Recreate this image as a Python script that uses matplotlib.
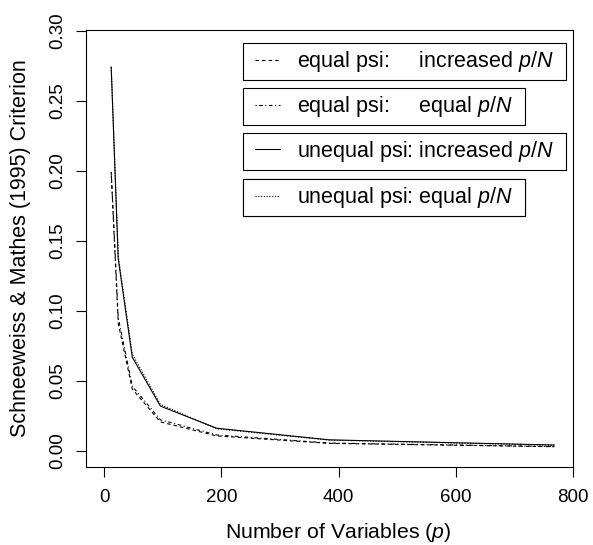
import matplotlib
matplotlib.use("Agg")
import matplotlib.pyplot as plt
from matplotlib.legend_handler import HandlerLine2D

plt.rcParams["font.family"] = ["Liberation Sans", "DejaVu Sans"]
plt.rcParams["mathtext.fontset"] = "custom"
plt.rcParams["mathtext.rm"] = "Liberation Sans"
plt.rcParams["mathtext.it"] = "Liberation Sans:italic"

# number of variables p
n_vars = [12, 24, 48, 96, 192, 384, 768]

# Schneeweiss & Mathes criterion for the four settings
eq_psi_incr = [0.199, 0.091, 0.044, 0.0205, 0.0105, 0.0052, 0.0028]
eq_psi_eq = [0.199, 0.095, 0.046, 0.0220, 0.0112, 0.0054, 0.0029]
uneq_psi_incr = [0.274, 0.137, 0.0667, 0.0318, 0.0160, 0.0077, 0.0040]
uneq_psi_eq = [0.274, 0.139, 0.0690, 0.0330, 0.0156, 0.0075, 0.0039]

labels = [
    "equal psi:     increased $p/N$",
    "equal psi:     equal $p/N$",
    "unequal psi: increased $p/N$",
    "unequal psi: equal $p/N$",
]

W, H = 593, 545
fig = plt.figure(figsize=(W / 100, H / 100), dpi=100)
ax = fig.add_axes([86 / W, 1 - 467 / H, (573 - 86) / W, (467 - 30) / H])

lw = 0.8
styles = [
    dict(ls=(0, (3.2, 2.7)), color="black"),
    dict(ls=(0, (1, 2.3, 3.2, 2.3)), color="black"),
    dict(ls="-", color="black"),
    dict(ls=(0, (1, 1.5)), color="black"),
]
series = [eq_psi_incr, eq_psi_eq, uneq_psi_incr, uneq_psi_eq]
lines = []
for ys, st in zip(series, styles):
    ln, = ax.plot(n_vars, ys, lw=lw, **st)
    lines.append(ln)

ax.set_xlim(-31, 800)
ax.set_ylim(-0.0117, 0.3005)
ax.set_xticks([0, 200, 400, 600, 800])
ax.set_yticks([0.0, 0.05, 0.10, 0.15, 0.20, 0.25, 0.30])
ax.set_yticklabels(["0.00", "0.05", "0.10", "0.15", "0.20", "0.25", "0.30"])
for sp in ax.spines.values():
    sp.set_linewidth(0.8)
ax.tick_params(axis="both", direction="out", length=7, width=0.8, labelsize=13.5)
ax.tick_params(axis="x", pad=8.5)
ax.tick_params(axis="y", pad=7.5)
for t in ax.get_yticklabels():
    t.set_rotation(90)
    t.set_va("center")

ax.set_xlabel("Number of Variables ($p$)", fontsize=15.3)
ax.xaxis.set_label_coords(0.517, -0.124)
ax.set_ylabel("Schneeweiss & Mathes (1995) Criterion", fontsize=15.5, labelpad=13)

# four separate legend boxes, as in the original
fs = 15.5
box_tops = [43.3, 88.3, 132.7, 179.3]
for ln, lab, top in zip(lines, labels, box_tops):
    leg = ax.legend(
        [ln], [lab + "  "],
        loc="upper left",
        bbox_to_anchor=(243 / W, 1 - top / H),
        bbox_transform=fig.transFigure,
        borderaxespad=0,
        borderpad=0.28,
        handlelength=1.45,
        handletextpad=0.78,
        fontsize=fs,
        frameon=True,
        fancybox=False,
        framealpha=1,
        edgecolor="black",
        handler_map={ln: HandlerLine2D(xpad=0.29)},
    )
    leg.get_frame().set_linewidth(0.8)
    ax.add_artist(leg)

fig.savefig("out.png", dpi=100)
